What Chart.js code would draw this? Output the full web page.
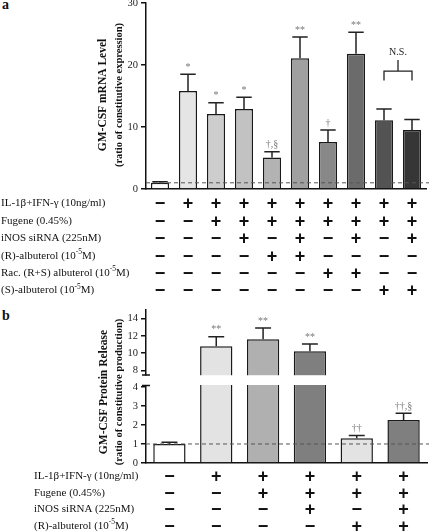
<!DOCTYPE html>
<html>
<head>
<meta charset="utf-8">
<script src="https://cdn.jsdelivr.net/npm/chart.js@4.4.1/dist/chart.umd.min.js"></script>
<style>
html, body { margin: 0; padding: 0; background: #fff; }
body { width: 429px; height: 531px; position: relative; overflow: hidden; }
.panel { position: absolute; left: 0; }
.tag { position: absolute; left: 2px; font: bold 14px "Liberation Serif", serif; line-height: 14px; color: #111; }
</style>
</head>
<body>
<div class="tag" style="top:-2px">a</div>
<div class="tag" style="top:309px">b</div>
<canvas id="chartA" class="panel" style="top:0" width="429" height="305"></canvas>
<canvas id="chartB" class="panel" style="top:305px" width="429" height="226"></canvas>
<script>
// panel a - GM-CSF mRNA
const mrnaGroups = ['1', '2', '3', '4', '5', '6', '7', '8', '9', '10'];
const mrnaLevel = [1.0, 15.8, 12.1, 12.9, 5.1, 21.1, 7.6, 21.8, 11.1, 9.5];
const mrnaSem = [0.15, 2.7, 1.8, 1.9, 0.9, 3.4, 1.9, 3.5, 1.8, 1.7];
const mrnaMarks = ['', '*', '*', '*', '\u2020,\u00a7', '**', '\u2020', '**', '', ''];
const mrnaColors = ['#ffffff', '#e5e5e5', '#cdcdcd', '#c2c2c2', '#b3b3b3', '#a0a0a0', '#888888', '#6b6b6b', '#535353', '#363636'];
const mrnaTicks = [0, 10, 20, 30];
const mrnaRows = ['IL-1\u03b2+IFN-\u03b3 (10ng/ml)', 'Fugene (0.45%)', 'iNOS siRNA (225nM)',
  '(R)-albuterol (10^{-5}M)', 'Rac. (R+S) albuterol (10^{-5}M)', '(S)-albuterol (10^{-5}M)'];
const mrnaSigns = ['-+++++++++', '--++++++++', '---+-+-+-+', '----++----', '------++--', '--------++'];

// panel b - GM-CSF protein
const protGroups = ['1', '2', '3', '4', '5', '6'];
const protLevel = [1.0, 10.8, 11.6, 10.2, 1.3, 2.26];
const protSem = [0.09, 1.1, 1.3, 0.85, 0.15, 0.36];
const protMarks = ['', '**', '**', '**', '\u2020\u2020', '\u2020\u2020,\u00a7'];
const protColors = ['#ffffff', '#e3e3e3', '#b0b0b0', '#7f7f7f', '#e3e3e3', '#7f7f7f'];
const protTicksTop = [8, 10, 12, 14];
const protTicksBot = [0, 1, 2, 3, 4];
const protRows = ['IL-1\u03b2+IFN-\u03b3 (10ng/ml)', 'Fugene (0.45%)', 'iNOS siRNA (225nM)', '(R)-albuterol (10^{-5}M)'];
const protSigns = ['-+++++', '--++++', '---+-+', '----++'];

const SERIF = '"Liberation Serif", serif';
Chart.defaults.font.family = SERIF;
Chart.defaults.color = '#222';
Chart.defaults.animation = false;
Chart.defaults.events = [];

// text with ^{superscript} parts
function drawRich(ctx, text, x, y, size) {
  const parts = text.split(/\^\{([^}]*)\}/);
  let cx = x;
  parts.forEach((p, i) => {
    const sup = i % 2 === 1;
    ctx.font = (sup ? size * 0.68 : size) + 'px ' + SERIF;
    ctx.fillText(p, cx, sup ? y - size * 0.36 : y);
    cx += ctx.measureText(p).width;
  });
}

function tablePlugin(rows, signs, first, gap, labelX) {
  return {
    id: 'table',
    afterDraw(chart) {
      const ctx = chart.ctx, x = chart.scales.x;
      ctx.save();
      ctx.fillStyle = '#111';
      ctx.textBaseline = 'middle';
      rows.forEach((lab, r) => {
        const y = chart.chartArea.bottom + first + r * gap;
        ctx.textAlign = 'left';
        drawRich(ctx, lab, labelX, y, 11);
        ctx.textAlign = 'center';
        ctx.font = 'bold 18px "Liberation Sans", sans-serif';
        for (let i = 0; i < signs[r].length; i++) {
          ctx.fillText(signs[r][i] === '+' ? '+' : '\u2212', x.getPixelForValue(i), y + 1);
        }
      });
      ctx.restore();
    }
  };
}

function titlePlugin(lines, sizes, xs, cy) {
  return {
    id: 'ytitle',
    afterDraw(chart) {
      const ctx = chart.ctx;
      ctx.save();
      ctx.fillStyle = '#111';
      ctx.textAlign = 'center';
      ctx.textBaseline = 'middle';
      lines.forEach((t, i) => {
        ctx.save();
        ctx.translate(xs[i], cy);
        ctx.rotate(-Math.PI / 2);
        ctx.font = 'bold ' + sizes[i] + 'px ' + SERIF;
        ctx.fillText(t, 0, 0);
        ctx.restore();
      });
      ctx.restore();
    }
  };
}

// error bars + significance marks; pick chooses the y scale for a value
function errorPlugin(values, sem, marks, capFrac, pick) {
  return {
    id: 'errors',
    afterDatasetsDraw(chart) {
      const ctx = chart.ctx, x = chart.scales.x;
      const half = (chart.chartArea.right - chart.chartArea.left) / values.length * capFrac / 2;
      ctx.save();
      ctx.strokeStyle = '#222';
      ctx.lineWidth = 1.5;
      values.forEach((v, i) => {
        const top = v + sem[i];
        const px = x.getPixelForValue(i);
        const y0 = pick(chart, v).getPixelForValue(v);
        const y1 = pick(chart, top).getPixelForValue(top);
        ctx.beginPath();
        ctx.moveTo(px, y0); ctx.lineTo(px, y1);
        ctx.moveTo(px - half, y1); ctx.lineTo(px + half, y1);
        ctx.stroke();
        if (marks[i]) {
          ctx.fillStyle = '#777';
          ctx.font = '10px ' + SERIF;
          ctx.textAlign = 'center';
          ctx.textBaseline = 'bottom';
          ctx.fillText(marks[i], px, y1 - 2);
        }
      });
      ctx.restore();
    }
  };
}

function refLinePlugin(scaleId, value) {
  return {
    id: 'refline',
    afterDatasetsDraw(chart) {
      const ctx = chart.ctx, y = chart.scales[scaleId].getPixelForValue(value);
      ctx.save();
      ctx.strokeStyle = '#555';
      ctx.lineWidth = 1;
      ctx.setLineDash([4, 3]);
      ctx.beginPath();
      ctx.moveTo(chart.chartArea.left, y);
      ctx.lineTo(chart.width, y);
      ctx.stroke();
      ctx.restore();
    }
  };
}

const yTickOpts = { padding: 3, font: { size: 10.5 }, color: '#222', autoSkip: false };
const yGridOpts = { drawOnChartArea: false, tickLength: 5, tickColor: '#111', lineWidth: 1.5 };
const nsBracket = { from: 8, to: 9, level: 19, leg: 1.5, stem: 1.8, text: 'N.S.' };

const chartA = new Chart(document.getElementById('chartA'), {
  type: 'bar',
  data: {
    labels: mrnaGroups,
    datasets: [{
      data: mrnaLevel,
      backgroundColor: mrnaColors,
      borderColor: '#1a1a1a',
      borderWidth: 1.5,
      barPercentage: 0.65,
      categoryPercentage: 1
    }]
  },
  options: {
    responsive: false,
    layout: { padding: { left: 0, top: 3, right: 3, bottom: 116 } },
    plugins: { legend: { display: false }, tooltip: { enabled: false } },
    scales: {
      x: {
        grid: { display: false },
        ticks: { display: false },
        border: { color: '#111', width: 1.5 },
        afterFit: s => { s.height = 0; }
      },
      y: {
        min: 0, max: 30,
        afterBuildTicks: s => { s.ticks = mrnaTicks.map(v => ({ value: v })); },
        ticks: yTickOpts,
        grid: yGridOpts,
        border: { color: '#111', width: 1.5 },
        afterFit: s => { s.width = 146; s.paddingTop = 0; s.paddingBottom = 0; }
      }
    }
  },
  plugins: [
    errorPlugin(mrnaLevel, mrnaSem, mrnaMarks, 0.55, c => c.scales.y),
    refLinePlugin('y', 1),
    {
      id: 'ns',
      afterDatasetsDraw(chart) {
        const ctx = chart.ctx, x = chart.scales.x, y = chart.scales.y;
        const x0 = x.getPixelForValue(nsBracket.from), x1 = x.getPixelForValue(nsBracket.to);
        const yb = y.getPixelForValue(nsBracket.level);
        ctx.save();
        ctx.strokeStyle = '#222';
        ctx.lineWidth = 1.3;
        ctx.beginPath();
        ctx.moveTo(x0, y.getPixelForValue(nsBracket.level - nsBracket.leg));
        ctx.lineTo(x0, yb); ctx.lineTo(x1, yb);
        ctx.lineTo(x1, y.getPixelForValue(nsBracket.level - nsBracket.leg));
        ctx.moveTo((x0 + x1) / 2, yb);
        ctx.lineTo((x0 + x1) / 2, y.getPixelForValue(nsBracket.level + nsBracket.stem));
        ctx.stroke();
        ctx.fillStyle = '#222';
        ctx.font = '10px ' + SERIF;
        ctx.textAlign = 'center';
        ctx.textBaseline = 'bottom';
        ctx.fillText(nsBracket.text, (x0 + x1) / 2, y.getPixelForValue(nsBracket.level + nsBracket.stem) - 3);
        ctx.restore();
      }
    },
    tablePlugin(mrnaRows, mrnaSigns, 14.5, 17.4, 1),
    titlePlugin(['GM-CSF mRNA Level', '(ratio of constitutive expression)'], [11.5, 10.5], [103, 119], 95)
  ]
});

// panel b: broken y axis, two stacked scales
const breakAt = 4.1;
const pickProt = (c, v) => (v > 5 ? c.scales.yTop : c.scales.yBot);

const chartB = new Chart(document.getElementById('chartB'), {
  type: 'bar',
  data: {
    labels: protGroups,
    datasets: ['yBot', 'yTop'].map(id => ({
      data: protLevel,
      yAxisID: id,
      grouped: false,
      backgroundColor: protColors,
      borderColor: '#1a1a1a',
      borderWidth: 1.5,
      barPercentage: 0.69,
      categoryPercentage: 1
    }))
  },
  options: {
    responsive: false,
    layout: { padding: { left: 0, top: 5, right: 2, bottom: 68 } },
    plugins: { legend: { display: false }, tooltip: { enabled: false } },
    scales: {
      x: {
        grid: { display: false },
        ticks: { display: false },
        border: { color: '#111', width: 1.5 },
        afterFit: s => { s.height = 0; }
      },
      yBot: {
        position: 'left', stack: 'prot', stackWeight: 87.4,
        min: 0, max: 4.6,
        afterBuildTicks: s => { s.ticks = protTicksBot.map(v => ({ value: v })); },
        ticks: yTickOpts,
        grid: yGridOpts,
        border: { color: '#111', width: 1.5 },
        afterFit: s => { s.width = 146; s.paddingTop = 0; s.paddingBottom = 0; }
      },
      yTop: {
        position: 'left', stack: 'prot', stackWeight: 65.4,
        min: 7.4, max: 15,
        afterBuildTicks: s => { s.ticks = protTicksTop.map(v => ({ value: v })); },
        ticks: yTickOpts,
        grid: yGridOpts,
        border: { color: '#111', width: 1.5 },
        afterFit: s => { s.width = 146; s.paddingTop = 0; s.paddingBottom = 0; }
      }
    }
  },
  plugins: [
    {
      id: 'axisClip',
      beforeDatasetDraw(chart, args) {
        const s = chart.scales[args.meta.yAxisID], a = chart.chartArea, ctx = chart.ctx;
        ctx.save();
        ctx.beginPath();
        ctx.rect(a.left - 2, s.top, a.right - a.left + 4, s.bottom - s.top);
        ctx.clip();
      },
      afterDatasetDraw(chart) { chart.ctx.restore(); }
    },
    {
      id: 'axisBreak',
      afterDatasetsDraw(chart) {
        const ctx = chart.ctx, top = chart.scales.yTop, bot = chart.scales.yBot;
        const ax = chart.chartArea.left;
        const y0 = top.bottom, y1 = bot.getPixelForValue(breakAt);
        ctx.save();
        ctx.fillStyle = '#fff';
        ctx.fillRect(ax - 8, y0, chart.width, y1 - y0);
        ctx.strokeStyle = '#111';
        ctx.lineWidth = 1.5;
        ctx.beginPath();
        ctx.moveTo(ax - 4, y0 - 0.5); ctx.lineTo(ax + 4, y0 - 0.5);
        ctx.moveTo(ax - 4, y1 + 0.5); ctx.lineTo(ax + 4, y1 + 0.5);
        ctx.stroke();
        ctx.restore();
      }
    },
    errorPlugin(protLevel, protSem, protMarks, 0.34, pickProt),
    refLinePlugin('yBot', 1),
    tablePlugin(protRows, protSigns, 13, 16.7, 34),
    titlePlugin(['GM-CSF Protein Release', '(ratio of constitutive production)'], [11.5, 10.5], [104, 119], 87)
  ]
});
</script>
</body>
</html>
